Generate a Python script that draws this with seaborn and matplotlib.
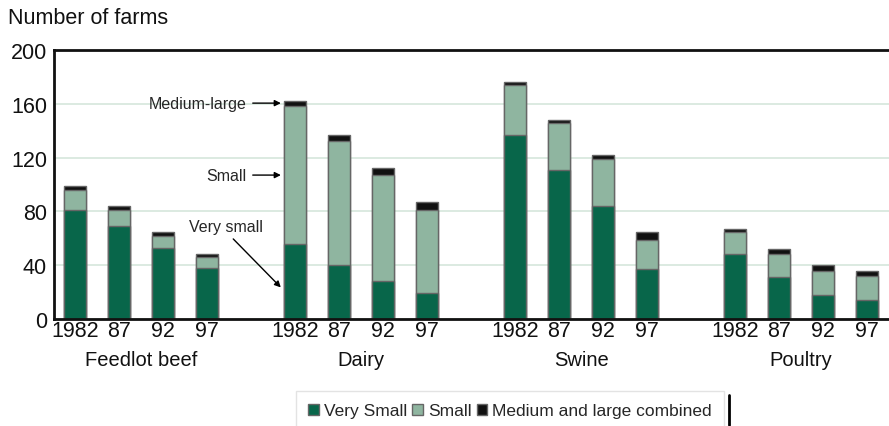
import matplotlib
matplotlib.use("Agg")
import matplotlib.pyplot as plt
from matplotlib.patches import Patch
from matplotlib.lines import Line2D
import seaborn as sns
import pandas as pd
import numpy as np

# data
groups = ["Feedlot beef", "Dairy", "Swine", "Poultry"]
years = ["1982", "87", "92", "97"]
very_small = [81, 69, 53, 38,  56, 40, 28, 19,  137, 111, 84, 37,  48, 31, 18, 14]
small = [15, 12, 9, 8,  102, 92, 79, 62,  37, 35, 35, 22,  17, 17, 18, 18]
med_large = [3, 3, 3, 2.5,  4, 5, 5, 6,  2, 2, 3, 6,  2, 4, 4, 4]

c_vs = "#08664a"
c_s = "#8fb5a0"
c_ml = "#111111"
edge = "#666666"

pos = [g * 5 + i for g in range(len(groups)) for i in range(len(years))]
df = pd.DataFrame({"pos": pos, "vs": very_small, "s": small, "ml": med_large})
df["vs_s"] = df["vs"] + df["s"]
df["total"] = df["vs_s"] + df["ml"]

sns.set_style("white")
plt.rcParams["font.family"] = ["Liberation Sans", "DejaVu Sans"]

fig = plt.figure(figsize=(8.89, 4.27), dpi=100)
ax = fig.add_axes([54 / 889, 1 - 320 / 427, 1 - 54 / 889, 269 / 427])

for col, c in [("total", c_ml), ("vs_s", c_s), ("vs", c_vs)]:
    sns.barplot(data=df, x="pos", y=col, native_scale=True, color=c, width=0.5,
                edgecolor=edge, linewidth=1.0, saturation=1, ax=ax, errorbar=None)

ax.set_xlim(-0.48, 18.5)
ax.set_ylim(0, 200)
ax.set_yticks([0, 40, 80, 120, 160, 200])
ax.yaxis.grid(True, color="#d6e6db", linewidth=1.2)
ax.set_axisbelow(True)
ax.set_xticks(pos)
ax.set_xticklabels(years * len(groups))
ax.tick_params(axis="both", length=0, labelsize=15.5, colors="#111111")
ax.tick_params(axis="x", pad=1)
ax.tick_params(axis="y", pad=5)
ax.set_xlabel("")
ax.set_ylabel("")
for s in ["top", "left", "bottom"]:
    ax.spines[s].set_color("#111111")
    ax.spines[s].set_linewidth(2)
ax.spines["right"].set_visible(False)

for g, name in enumerate(groups):
    ax.text(g * 5 + 1.5, -0.15, name, transform=ax.get_xaxis_transform(),
            ha="center", va="center", fontsize=14.5, color="#111111")

fig.text(8 / 889, 1 - 18 / 427, "Number of farms", fontsize=15.5, va="center",
         color="#111111")

arrow = dict(arrowstyle="-|>", color="black", lw=1, mutation_scale=9)
ax.annotate("Medium-large", xy=(4.74, 160.5), xytext=(3.9, 160.5), ha="right",
            va="center", fontsize=11.5, arrowprops=arrow)
ax.annotate("Small", xy=(4.74, 107), xytext=(3.9, 107), ha="right",
            va="center", fontsize=11.5, arrowprops=arrow)
ax.text(3.43, 69, "Very small", ha="center", va="center", fontsize=11.5)
ax.annotate("", xy=(4.72, 22), xytext=(3.55, 61), arrowprops=arrow)

handles = [Patch(facecolor=c_vs, edgecolor=edge), Patch(facecolor=c_s, edgecolor=edge),
           Patch(facecolor=c_ml, edgecolor=edge)]
leg = fig.legend(handles, ["Very Small", "Small", "Medium and large combined"],
                 loc="center", bbox_to_anchor=(510 / 889, 1 - 412 / 427), ncol=3,
                 fontsize=12.5, handlelength=0.6, handleheight=0.6, handletextpad=0.3,
                 columnspacing=0.3, fancybox=False, borderpad=0.7)
leg.get_frame().set_edgecolor("#dddddd")
leg.get_frame().set_linewidth(1)
fig.add_artist(Line2D([729 / 889, 729 / 889], [1 - 426 / 427, 1 - 396 / 427],
                      color="black", lw=2, transform=fig.transFigure))

fig.savefig("out.png", dpi=100)
